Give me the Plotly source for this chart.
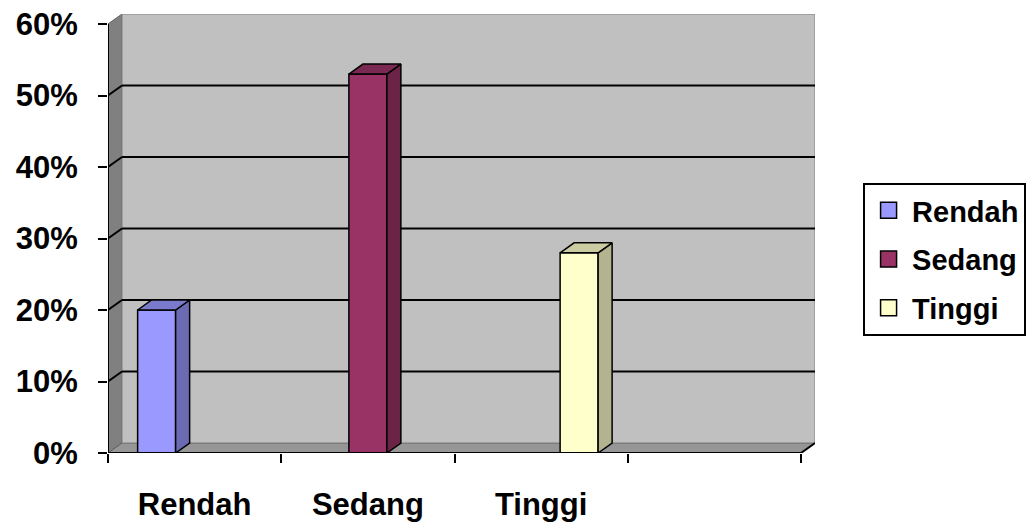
import plotly.graph_objects as go

# ---- data ----
categories = ["Rendah", "Sedang", "Tinggi", ""]
series_names = ["Rendah", "Sedang", "Tinggi"]
series_values = [0.20, 0.53, 0.28]
y_ticks = [0.0, 0.1, 0.2, 0.3, 0.4, 0.5, 0.6]
y_tick_labels = ["0%", "10%", "20%", "30%", "40%", "50%", "60%"]

# ---- styles ----
front_colors = ["#9999FF", "#993366", "#FFFFCC"]
side_colors = ["#6B6BB3", "#6B2447", "#B3B38F"]
top_colors = ["#7A7ACC", "#7A2952", "#CCCCA3"]
FONT = "Liberation Sans, Arial, sans-serif"

n_cat = len(categories)
n_ser = len(series_names)
ymax = y_ticks[-1]
dx = 0.0808   # depth offset in x units
dy = 0.014    # depth offset in y units
bar_w = 0.2193
edge_gap = (1 - n_ser * bar_w) / 2

fig = go.Figure()

shapes = []
# left side wall
shapes.append(dict(type="path", xref="x", yref="y", layer="below",
                   path=f"M0,0 L{dx},{dy} L{dx},{ymax+dy} L0,{ymax} Z",
                   fillcolor="#808080", line=dict(color="#606060", width=1)))
# floor
shapes.append(dict(type="path", xref="x", yref="y", layer="below",
                   path=f"M0,0 L{dx},{dy} L{n_cat+dx},{dy} L{n_cat},0 Z",
                   fillcolor="#969696", line=dict(color="#606060", width=1)))
# back wall
shapes.append(dict(type="rect", xref="x", yref="y", layer="below",
                   x0=dx, y0=dy, x1=n_cat + dx, y1=ymax + dy,
                   fillcolor="#C0C0C0", line=dict(color="#808080", width=1)))
# gridlines on back wall + side wall
for v in y_ticks[1:-1]:
    shapes.append(dict(type="line", xref="x", yref="y", layer="below",
                       x0=dx, y0=v + dy, x1=n_cat + dx, y1=v + dy,
                       line=dict(color="black", width=2)))
    shapes.append(dict(type="line", xref="x", yref="y", layer="below",
                       x0=0, y0=v, x1=dx, y1=v + dy,
                       line=dict(color="black", width=2)))
# front axis lines
shapes.append(dict(type="line", xref="x", yref="y", layer="above",
                   x0=0, y0=0, x1=0, y1=ymax, line=dict(color="black", width=2)))
shapes.append(dict(type="line", xref="x", yref="y", layer="above",
                   x0=0, y0=0, x1=n_cat, y1=0, line=dict(color="black", width=2)))
shapes.append(dict(type="line", xref="x", yref="y", layer="below",
                   x0=n_cat, y0=0, x1=n_cat + dx, y1=dy, line=dict(color="black", width=2)))

# bars
for i, (name, v) in enumerate(zip(series_names, series_values)):
    cat = i  # series i has its value in category i
    x0 = cat + edge_gap + i * bar_w
    x1 = x0 + bar_w
    fig.add_trace(go.Bar(x=[(x0 + x1) / 2], y=[v], width=[bar_w], base=0,
                         marker=dict(color=front_colors[i], line=dict(color="black", width=1.5)),
                         showlegend=False, hoverinfo="skip"))
    # side face
    fig.add_trace(go.Scatter(x=[x1, x1 + dx, x1 + dx, x1, x1],
                             y=[0, dy, v + dy, v, 0],
                             fill="toself", fillcolor=side_colors[i], mode="lines",
                             line=dict(color="black", width=1.5),
                             showlegend=False, hoverinfo="skip"))
    # top face
    fig.add_trace(go.Scatter(x=[x0, x0 + dx, x1 + dx, x1, x0],
                             y=[v, v + dy, v + dy, v, v],
                             fill="toself", fillcolor=top_colors[i], mode="lines",
                             line=dict(color="black", width=1.5),
                             showlegend=False, hoverinfo="skip"))

# legend entries
for i, name in enumerate(series_names):
    fig.add_trace(go.Scatter(x=[None], y=[None], mode="markers", name=name,
                             legendgroup=name,
                             marker=dict(symbol="square", size=16, color=front_colors[i],
                                         line=dict(color="black", width=1.5))))

fig.update_layout(
    width=1029, height=523,
    margin=dict(l=108, r=214, t=14, b=70, autoexpand=False),
    paper_bgcolor="white", plot_bgcolor="white",
    barmode="overlay",
    shapes=shapes,
    font=dict(family=FONT, color="black", size=31, weight="bold"),
    legend=dict(x=1.068, xanchor="left", y=0.615, yanchor="top",
                bgcolor="white", bordercolor="black", borderwidth=2,
                font=dict(family=FONT, size=29, weight="bold"),
                itemwidth=37,
                traceorder="grouped", tracegroupgap=8),
    xaxis=dict(range=[0, n_cat + dx], showgrid=False, zeroline=False, showline=False,
               automargin=False,
               tickmode="array", tickvals=[c + 0.5 for c in range(n_cat)], ticktext=categories,
               ticks="", ticklabelstandoff=30,
               minor=dict(tickmode="array", tickvals=list(range(n_cat + 1)), ticks="outside",
                          ticklen=9, tickwidth=2, tickcolor="black", showgrid=False)),
    yaxis=dict(range=[0, ymax + dy], showgrid=False, zeroline=False, showline=False,
               automargin=False,
               tickmode="array", tickvals=y_ticks, ticktext=y_tick_labels,
               ticks="outside", ticklen=9, tickwidth=2, tickcolor="black",
               ticklabelstandoff=14),
)

fig.write_html("out.html")
